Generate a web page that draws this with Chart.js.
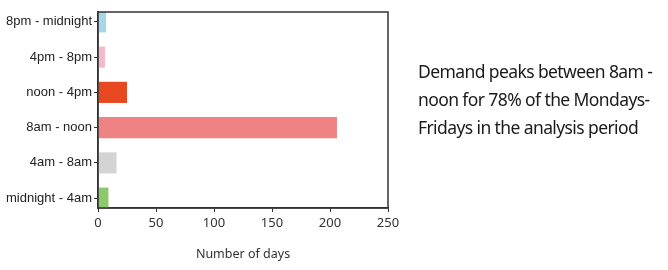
<!DOCTYPE html>
<html>
<head>
<meta charset="utf-8">
<script src="https://cdn.jsdelivr.net/npm/chart.js@4/dist/chart.umd.min.js"></script>
<style>
  body { margin: 0; background: #fff; }
  #wrap { position: relative; width: 668px; height: 270px; }
  #note {
    position: absolute; left: 418px; top: 57px; width: 245px;
    font-family: "Noto Sans", sans-serif; font-size: 17.5px; line-height: 28px;
    color: #1a1a1a; letter-spacing: -0.6px;
  }
</style>
</head>
<body>
<div id="wrap">
  <canvas id="myChart" width="668" height="270"></canvas>
  <div id="note">Demand peaks between 8am - noon for 78% of the Mondays- Fridays in the analysis period</div>
</div>
<script>
// bottom to top
const categories = ['midnight - 4am', '4am - 8am', '8am - noon', 'noon - 4pm', '4pm - 8pm', '8pm - midnight'];
const days = [9, 16, 206, 25, 6, 7];
const barColors = ['#8cc96b', '#d4d4d4', '#ef8282', '#e8481f', '#f5b8c8', '#a8d5ea'];
const xTicks = [0, 50, 100, 150, 200, 250];

// box around the plot area
const frame = {
  id: 'frame',
  afterDraw(chart) {
    const a = chart.chartArea, c = chart.ctx;
    c.save();
    c.strokeStyle = '#333';
    c.lineWidth = 1.5;
    c.strokeRect(a.left, a.top, a.right - a.left, a.bottom - a.top);
    c.restore();
  }
};

const ctx = document.getElementById('myChart').getContext('2d');
new Chart(ctx, {
  type: 'bar',
  data: {
    datasets: [{
      data: days.map((v, i) => ({ x: v, y: i })),
      backgroundColor: barColors,
      barPercentage: 0.6,
      categoryPercentage: 1
    }]
  },
  options: {
    indexAxis: 'y',
    responsive: false,
    animation: false,
    layout: { padding: { top: 12, right: 280, left: 0, bottom: 0 } },
    plugins: { legend: { display: false }, tooltip: { enabled: false } },
    scales: {
      x: {
        type: 'linear',
        min: 0, max: 250,
        afterBuildTicks: s => { s.ticks = xTicks.map(v => ({ value: v })); },
        afterFit: s => { s.height = 62; },
        grid: { drawOnChartArea: false, tickLength: 4, color: '#333' },
        border: { color: '#333', width: 1.5 },
        ticks: { color: '#333', font: { family: 'Noto Sans', size: 13 }, padding: 3 },
        title: { display: true, text: 'Number of days', color: '#333', font: { family: 'Noto Sans', size: 12.5 }, padding: { top: 4, bottom: 8 } }
      },
      y: {
        type: 'linear',
        offset: false,
        min: -0.28, max: 5.28,
        afterBuildTicks: s => { s.ticks = categories.map((_, i) => ({ value: i })); },
        afterFit: s => { s.width = 98; },
        grid: { drawOnChartArea: false, offset: false, tickLength: 4, color: '#333' },
        border: { color: '#333', width: 1.5 },
        ticks: {
          color: '#222',
          font: { family: 'Liberation Sans Narrow, Arial Narrow, sans-serif', size: 13 },
          padding: 2,
          callback: v => categories[v]
        }
      }
    }
  },
  plugins: [frame]
});
</script>
</body>
</html>
